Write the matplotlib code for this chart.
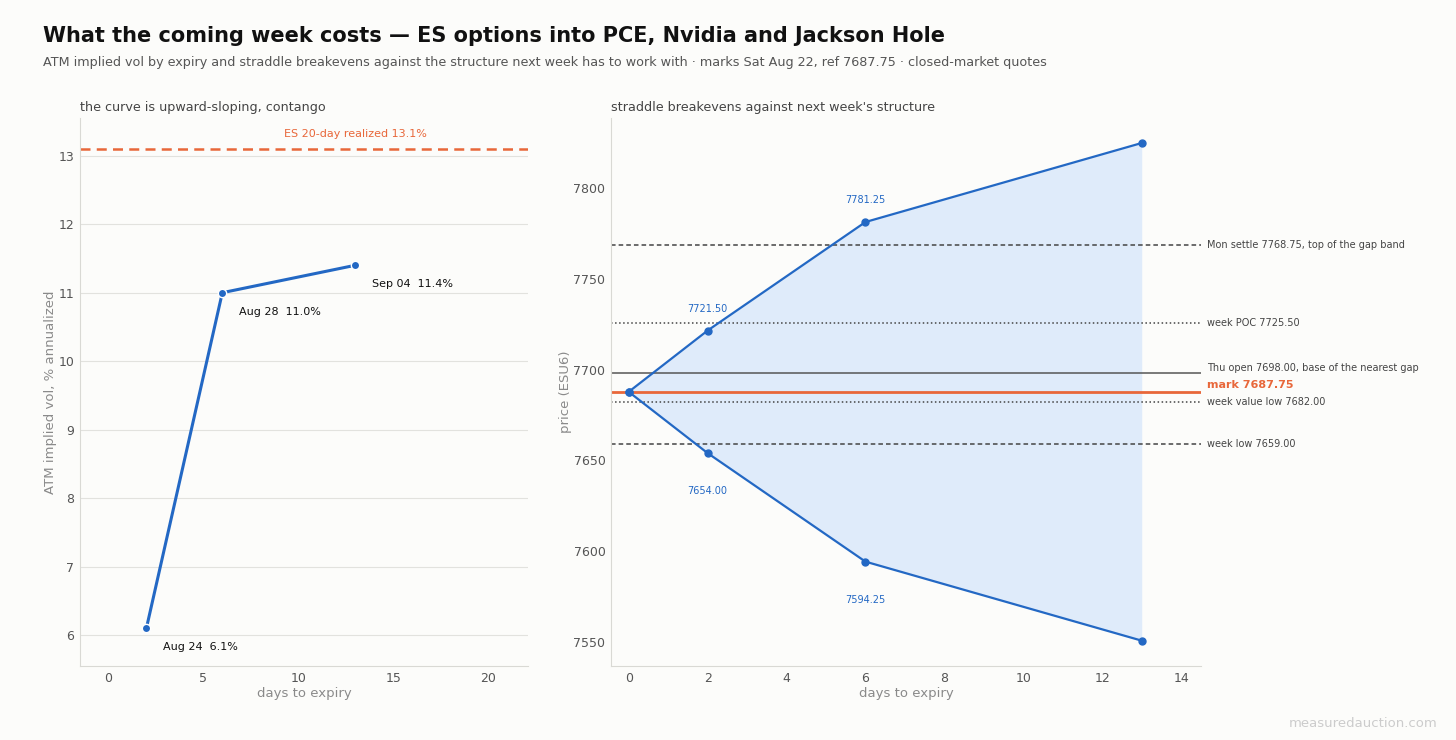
import matplotlib
matplotlib.use('Agg')
import matplotlib.pyplot as plt
import matplotlib.transforms as mtransforms

BG = '#fcfcfa'
BLUE = '#2368c4'
FILL = '#dceafb'
ORANGE = '#e8673a'
DARK = '#444444'
TICK = '#555555'
LABEL = '#8a8a8a'
SPINE = '#d9d9d4'

# term structure
iv_days = [2, 6, 13]
iv_values = [6.1, 11.0, 11.4]
iv_labels = ['Aug 24', 'Aug 28', 'Sep 04']
realized_20d = 13.1

# straddle breakevens
be_days = [0, 2, 6, 13]
be_upper = [7687.75, 7721.50, 7781.25, 7824.75]
be_lower = [7687.75, 7654.00, 7594.25, 7550.75]
mark = 7687.75

# structure levels: (price, label, style)
levels = [
    (7768.75, 'Mon settle 7768.75, top of the gap band', '--'),
    (7725.50, 'week POC 7725.50', ':'),
    (7698.00, 'Thu open 7698.00, base of the nearest gap', '-'),
    (7682.00, 'week value low 7682.00', ':'),
    (7659.00, 'week low 7659.00', '--'),
]


def style_axes(ax):
    ax.set_facecolor(BG)
    for s in ['top', 'right']:
        ax.spines[s].set_visible(False)
    for s in ['left', 'bottom']:
        ax.spines[s].set_color(SPINE)
    ax.tick_params(colors=TICK, labelsize=9, length=0, pad=4)


fig = plt.figure(figsize=(14.56, 7.40), dpi=100, facecolor=BG)

fig.text(0.0295, 0.952, 'What the coming week costs \u2014 ES options into PCE, Nvidia and Jackson Hole',
         fontsize=15, fontweight='bold', color='#111111', va='center')
fig.text(0.0295, 0.916, 'ATM implied vol by expiry and straddle breakevens against the structure next week '
         'has to work with \u00b7 marks Sat Aug 22, ref 7687.75 \u00b7 closed-market quotes',
         fontsize=9.2, color='#555555', va='center')
fig.text(0.987, 0.022, 'measuredauction.com', fontsize=9.5, color='#cccccc', ha='right', va='center')

# left: IV term structure
ax1 = fig.add_axes([0.0549, 0.1, 0.3077, 0.7405])
style_axes(ax1)
ax1.grid(axis='y', color='#e2e2de', linewidth=0.8)
ax1.set_axisbelow(True)
ax1.axhline(realized_20d, color=ORANGE, linestyle='--', linewidth=1.8, dashes=(4, 2.5))
ax1.text(13, realized_20d + 0.15, f'ES 20-day realized {realized_20d:.1f}%',
         color=ORANGE, fontsize=8, ha='center', va='bottom')
ax1.plot(iv_days, iv_values, color=BLUE, linewidth=2.2, marker='o', markersize=6,
         markeredgecolor='white', markeredgewidth=1.0)
for d, v, lab in zip(iv_days, iv_values, iv_labels):
    ax1.annotate(f'{lab}  {v:.1f}%', (d, v), xytext=(12, -10), textcoords='offset points',
                 fontsize=8, color='#111111', ha='left', va='top')
ax1.set_xlim(-1.5, 22.1)
ax1.set_ylim(5.55, 13.55)
ax1.set_xticks([0, 5, 10, 15, 20])
ax1.set_yticks([6, 7, 8, 9, 10, 11, 12, 13])
ax1.set_xlabel('days to expiry', color=LABEL, fontsize=9.5, labelpad=2)
ax1.set_ylabel('ATM implied vol, % annualized', color=LABEL, fontsize=9.5, labelpad=1)
ax1.set_title('the curve is upward-sloping, contango', loc='left', fontsize=9.2, color=DARK, pad=5)

# right: straddle breakevens
ax2 = fig.add_axes([0.4196, 0.1, 0.4052, 0.7405])
style_axes(ax2)
ax2.fill_between(be_days, be_lower, be_upper, color=FILL, alpha=0.9, linewidth=0)
trans = mtransforms.blended_transform_factory(ax2.transAxes, ax2.transData)
label_y = {7698.00: 7701.0}
for price, lab, ls in levels:
    if ls == '-':
        ax2.axhline(price, color='#555555', linestyle='-', linewidth=1.1)
    elif ls == '--':
        ax2.axhline(price, color='#444444', linestyle='--', linewidth=1.1, dashes=(3, 2))
    else:
        ax2.axhline(price, color='#444444', linestyle=':', linewidth=1.1)
    ax2.text(1.01, label_y.get(price, price), lab, transform=trans, fontsize=7,
             color=DARK, va='center', ha='left', clip_on=False)
ax2.axhline(mark, color=ORANGE, linewidth=2.0)
ax2.text(1.01, mark + 3.5, f'mark {mark:.2f}', transform=trans, fontsize=8,
         color=ORANGE, fontweight='bold', va='center', ha='left', clip_on=False)

ax2.plot(be_days, be_upper, color=BLUE, linewidth=1.6, marker='o', markersize=5,
         markeredgecolor=BLUE)
ax2.plot(be_days, be_lower, color=BLUE, linewidth=1.6, marker='o', markersize=5,
         markeredgecolor=BLUE)
for d, u, l in zip(be_days[1:3], be_upper[1:3], be_lower[1:3]):
    ax2.annotate(f'{u:.2f}', (d, u), xytext=(0, 12), textcoords='offset points',
                 fontsize=7, color=BLUE, ha='center', va='bottom')
    ax2.annotate(f'{l:.2f}', (d, l), xytext=(0, -24), textcoords='offset points',
                 fontsize=7, color=BLUE, ha='center', va='top')
ax2.set_xlim(-0.45, 14.5)
ax2.set_ylim(7536.8, 7838.5)
ax2.set_xticks([0, 2, 4, 6, 8, 10, 12, 14])
ax2.set_yticks([7550, 7600, 7650, 7700, 7750, 7800])
ax2.set_xlabel('days to expiry', color=LABEL, fontsize=9.5, labelpad=2)
ax2.set_ylabel('price (ESU6)', color=LABEL, fontsize=9.5, labelpad=1)
ax2.set_title("straddle breakevens against next week's structure", loc='left',
              fontsize=9.2, color=DARK, pad=5)

fig.savefig('out.png', dpi=100, facecolor=BG)
